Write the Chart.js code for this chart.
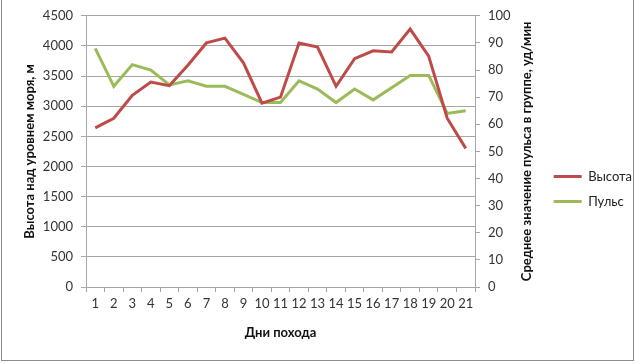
<!DOCTYPE html>
<html>
<head>
<meta charset="utf-8">
<script src="https://cdn.jsdelivr.net/npm/chart.js@4/dist/chart.umd.min.js"></script>
<style>
  html, body { margin: 0; padding: 0; background: #fff; }
  .wrap { position: relative; width: 642px; height: 364px; overflow: hidden; }
  .frame { position: absolute; left: 1px; top: -4px; width: 633px; height: 365px; border: 1px solid #8c8c8c; box-sizing: border-box; pointer-events: none; }
  canvas { display: block; }
</style>
</head>
<body>
<div class="wrap">
  <canvas id="chart" width="642" height="364"></canvas>
  <div class="frame"></div>
</div>
<script>
// дни похода
const days = ["1","2","3","4","5","6","7","8","9","10","11","12","13","14","15","16","17","18","19","20","21"];
// высота над уровнем моря, м
const heightData = [2640, 2800, 3180, 3400, 3340, 3680, 4050, 4130, 3720, 3050, 3150, 4050, 3980, 3330, 3790, 3920, 3900, 4280, 3830, 2800, 2300];
// средний пульс, уд/мин
const pulseData = [88, 74, 82, 80, 74.5, 76, 74, 74, 71, 68, 68, 76, 73, 68, 73, 69, 73.5, 78, 78, 64, 65];

const RED = "#be4b48";
const GREEN = "#9bbb59";
const GRID = "#a6a6a6";
const FONT = "Lato, 'Open Sans', sans-serif";
const rightTitle = "Среднее значение пульса в группе, уд/мин";

// заголовок правой оси читается снизу вверх, как в Excel
const rightTitlePlugin = {
  id: "rightTitle",
  afterDraw(chart) {
    const { ctx, chartArea } = chart;
    ctx.save();
    ctx.translate(527, (chartArea.top + chartArea.bottom) / 2);
    ctx.rotate(-Math.PI / 2);
    ctx.font = "bold 13px " + FONT;
    ctx.fillStyle = "#111";
    ctx.textAlign = "center";
    ctx.textBaseline = "middle";
    ctx.fillText(rightTitle, 0, 0);
    ctx.restore();
  },
};

const ctx = document.getElementById("chart");

new Chart(ctx, {
  type: "line",
  data: {
    labels: days,
    datasets: [
      {
        label: "Высота",
        data: heightData,
        borderColor: RED,
        backgroundColor: RED,
        borderWidth: 3,
        pointRadius: 0,
        tension: 0,
        yAxisID: "y",
      },
      {
        label: "Пульс",
        data: pulseData,
        borderColor: GREEN,
        backgroundColor: GREEN,
        borderWidth: 3,
        pointRadius: 0,
        tension: 0,
        yAxisID: "y2",
      },
    ],
  },
  options: {
    responsive: false,
    animation: false,
    layout: { padding: { top: 14, left: 0, right: 0, bottom: 0 } },
    plugins: {
      tooltip: { enabled: false },
      legend: {
        position: "right",
        align: "center",
        labels: {
          font: { family: FONT, size: 13 },
          color: "#222",
          boxWidth: 28,
          boxHeight: 3,
          padding: 12,
          generateLabels(chart) {
            const items = Chart.defaults.plugins.legend.labels.generateLabels(chart);
            items.forEach((it) => { it.lineWidth = 0; });
            return items;
          },
        },
      },
    },
    scales: {
      x: {
        offset: true,
        grid: { display: true, offset: true, drawOnChartArea: false, tickLength: 5, color: GRID },
        border: { color: GRID },
        ticks: { font: { family: FONT, size: 13 }, color: "#333", maxRotation: 0, autoSkip: false, padding: 4 },
        title: { display: true, text: "Дни похода", font: { family: FONT, size: 13, weight: "bold" }, color: "#111", padding: { top: 0, bottom: 23 } },
        afterFit(scale) { scale.height = 77; },
      },
      y: {
        position: "left",
        min: 0,
        max: 4500,
        ticks: { stepSize: 500, font: { family: FONT, size: 13 }, color: "#333", padding: 8, callback: (v) => String(v) },
        grid: { color: GRID, tickLength: 5 },
        border: { color: GRID },
        title: { display: true, text: "Высота над уровнем моря, м", font: { family: FONT, size: 13, weight: "bold" }, color: "#111", padding: { top: 22, bottom: 0 } },
        afterFit(scale) { scale.width = 86; },
      },
      y2: {
        position: "right",
        min: 0,
        max: 100,
        ticks: { stepSize: 10, font: { family: FONT, size: 13 }, color: "#333", padding: 8 },
        grid: { drawOnChartArea: false, color: GRID, tickLength: 5 },
        border: { color: GRID },
        afterFit(scale) {
          const lg = scale.chart.legend;
          const lw = lg && lg.width ? lg.width : 100;
          scale.width = 642 - lw - 475;
        },
      },
    },
  },
  plugins: [rightTitlePlugin],
});
</script>
</body>
</html>
